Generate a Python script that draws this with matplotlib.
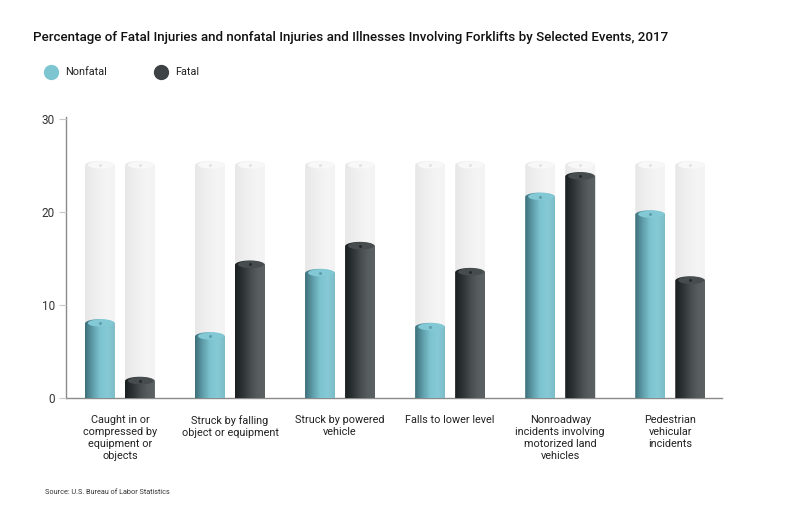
import numpy as np
import matplotlib
matplotlib.use("Agg")
import matplotlib.pyplot as plt
from matplotlib.patches import Ellipse, Polygon
from matplotlib.lines import Line2D
from matplotlib.colors import LinearSegmentedColormap

plt.rcParams['font.family'] = ['Roboto', 'DejaVu Sans']

categories = ["Caught in or\ncompressed by\nequipment or\nobjects",
              "Struck by falling\nobject or equipment",
              "Struck by powered\nvehicle",
              "Falls to lower level",
              "Nonroadway\nincidents involving\nmotorized land\nvehicles",
              "Pedestrian\nvehicular\nincidents"]
nonfatal = [8.0, 6.6, 13.4, 7.6, 21.6, 19.7]
fatal = [1.8, 14.3, 16.3, 13.5, 23.8, 12.6]
track_max = 25
yticks = [0, 10, 20, 30]
series_names = ["Nonfatal", "Fatal"]

W, H = 792, 520
fig = plt.figure(figsize=(W / 100, H / 100), dpi=100)
fig.patch.set_facecolor("white")
ax = fig.add_axes([66 / W, 122 / H, 656 / W, 281 / H])
XMIN, XMAX, YMAX = -0.49, 5.47, 30.2
ax.set_xlim(XMIN, XMAX)
ax.set_ylim(0, YMAX)

px_x = 656 / (XMAX - XMIN)
px_y = 281 / YMAX
bw = 30 / px_x
ry = 4.5 / px_y
off = 20 / px_x

cm_teal = LinearSegmentedColormap.from_list("t", ["#3c6f79", "#5d9ca8", "#7cc2cf", "#86cad7", "#7bbcc8"])
cm_dark = LinearSegmentedColormap.from_list("d", ["#1a1f20", "#2c3233", "#454b4c", "#575d5e", "#5c6263"])
cm_bg = LinearSegmentedColormap.from_list("b", ["#e8e8e8", "#ededed", "#f1f1f1", "#f5f5f5", "#f3f3f3"])
grad = np.linspace(0, 1, 256).reshape(1, -1)


def cylinder(cx, v, cmap, cap_face, dot, z):
    x0, x1 = cx - bw / 2, cx + bw / 2
    t = np.linspace(np.pi, 0, 40)
    top = np.column_stack([cx + bw / 2 * np.cos(t), v + ry * np.sin(t)])
    t2 = np.linspace(0, -np.pi, 40)
    bot = np.column_stack([cx + bw / 2 * np.cos(t2), 0 + ry * np.sin(t2)])
    pts = np.vstack([[x0, 0], top, [x1, 0], bot])
    poly = Polygon(pts, closed=True, facecolor="none", edgecolor="none", zorder=z)
    poly.set_clip_on(False)
    ax.add_patch(poly)
    im = ax.imshow(grad, cmap=cmap, extent=[x0, x1, -ry, v + ry], aspect="auto",
                   interpolation="bilinear", zorder=z)
    im.set_clip_path(poly)
    cap = Ellipse((cx + bw * 0.03, v + ry * 0.1), bw * 0.86, 2 * ry * 0.8, facecolor=cap_face,
                  edgecolor="none", zorder=z + 0.1)
    cap.set_clip_on(False)
    ax.add_patch(cap)
    ax.plot([cx], [v + ry * 0.1], marker="o", markersize=1.2, color=dot, zorder=z + 0.2, clip_on=False)


for i in range(len(categories)):
    for j, (vals, cmap, cf, dc) in enumerate([
        (nonfatal, cm_teal, "#82c8d5", "#5f9fab"),
        (fatal, cm_dark, "#474d4e", "#262b2c")]):
        cx = i + (-off if j == 0 else off)
        cylinder(cx, track_max, cm_bg, "#f8f8f8", "#e4e4e4", 3)
        cylinder(cx, vals[i], cmap, cf, dc, 4)

ax.set_xlim(XMIN, XMAX)
ax.set_ylim(0, YMAX)

for s in ["top", "right"]:
    ax.spines[s].set_visible(False)
for s in ["left", "bottom"]:
    ax.spines[s].set_color("#8a8a8a")
    ax.spines[s].set_linewidth(1.0)
    ax.spines[s].set_zorder(1)

ax.set_yticks(yticks)
ax.set_yticklabels([str(v) for v in yticks])
ax.tick_params(axis="y", length=5, width=0.8, color="#c8c8c8", labelsize=8.5,
               labelcolor="#333333", pad=3)
ax.set_xticks(range(len(categories)))
ax.set_xticklabels(categories, fontsize=7.8, color="#222222", linespacing=1.25, va="top")
ax.tick_params(axis="x", length=0, pad=12)

fig.text(33 / W, 1 - 38 / H, "Percentage of Fatal Injuries and nonfatal Injuries and Illnesses Involving Forklifts by Selected Events, 2017",
         fontsize=9.6, fontweight="medium", color="#111111", va="center", ha="left")

legend_items = [(51, "#7ec5d2", series_names[0]), (161, "#3d4344", series_names[1])]
for x, c, lab in legend_items:
    fig.add_artist(Line2D([x / W], [1 - 72 / H], marker="o", markersize=10, color=c,
                          linestyle="none", transform=fig.transFigure))
    fig.text((x + 14) / W, 1 - 72 / H, lab, fontsize=7.8, color="#222222", va="center", ha="left")

fig.text(45 / W, 1 - 493 / H, "Source: U.S. Bureau of Labor Statistics", fontsize=5.2, color="#333333",
         va="center", ha="left")

fig.savefig("out.png", dpi=100, facecolor="white")
